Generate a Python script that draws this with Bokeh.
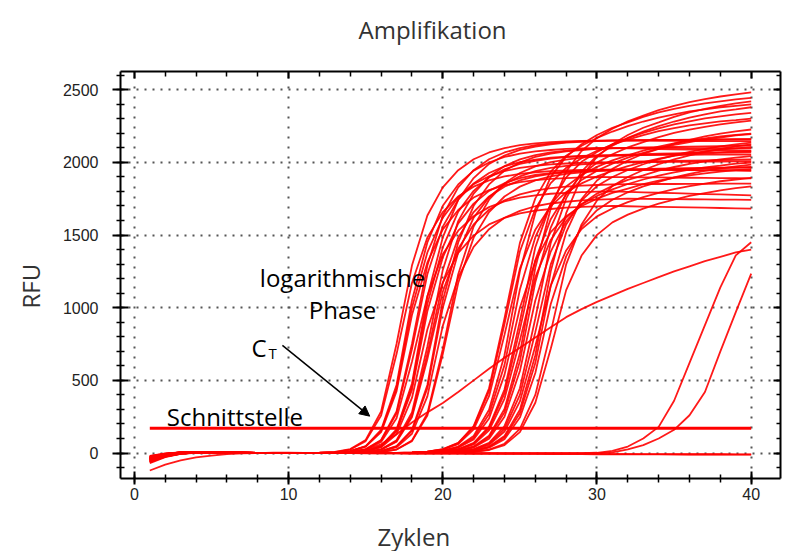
from bokeh.plotting import figure
from bokeh.models import (Range1d, LinearAxis, SingleIntervalTicker, FixedTicker, Label, Arrow,
                          NormalHead, Grid, Title)
from bokeh.embed import file_html
from bokeh.resources import INLINE

# ---------------- data (RFU per cycle) ----------------
cycles = list(range(1, 41))

early_curves = [
    [-40, -12, 2, 6, 6, 4, 2, 1, 0, 0, 1, 2, 8, 27, 90, 286, 750, 1290, 1634, 1828, 1946, 2021, 2068, 2098, 2118, 2131, 2139, 2144, 2148, 2150, 2151, 2152, 2153, 2154, 2155, 2156, 2157, 2158, 2159, 2160],
    [-52, -18, 0, 5, 6, 4, 2, 1, 0, 0, 1, 2, 7, 24, 82, 259, 681, 1170, 1482, 1658, 1765, 1833, 1876, 1903, 1921, 1932, 1940, 1944, 1948, 1950, 1950, 1949, 1949, 1948, 1948, 1947, 1947, 1946, 1946, 1945],
    [-65, -25, -5, 3, 5, 4, 2, 1, 0, 0, 0, 1, 4, 14, 48, 160, 468, 1050, 1449, 1701, 1848, 1943, 1999, 2037, 2060, 2075, 2085, 2092, 2096, 2100, 2098, 2096, 2094, 2092, 2090, 2088, 2086, 2084, 2082, 2080],
    [-20, -3, 5, 8, 7, 5, 3, 1, 0, 0, 0, 1, 4, 13, 44, 144, 424, 950, 1311, 1539, 1672, 1758, 1809, 1843, 1864, 1877, 1886, 1892, 1896, 1900, 1899, 1898, 1897, 1896, 1895, 1894, 1893, 1892, 1891, 1890],
    [-36, -10, 3, 7, 6, 4, 3, 1, 0, 0, 0, 1, 4, 13, 46, 152, 446, 1000, 1380, 1620, 1760, 1850, 1904, 1940, 1962, 1976, 1986, 1992, 1996, 2000, 2002, 2004, 2006, 2008, 2010, 2012, 2014, 2016, 2018, 2020],
    [-55, -18, 0, 5, 6, 4, 3, 1, 0, 0, 0, 1, 2, 7, 25, 86, 273, 715, 1230, 1558, 1743, 1855, 1927, 1972, 2002, 2019, 2032, 2040, 2044, 2048, 2050, 2053, 2056, 2059, 2062, 2065, 2068, 2071, 2074, 2077],
    [-30, -8, 4, 7, 6, 5, 3, 1, 0, 0, 0, 1, 2, 6, 22, 76, 239, 628, 1080, 1368, 1530, 1629, 1692, 1732, 1757, 1773, 1784, 1790, 1795, 1798, 1800, 1797, 1794, 1791, 1788, 1785, 1782, 1779, 1776, 1773],
    [-46, -15, 1, 5, 6, 5, 3, 1, 0, 0, 0, 1, 2, 8, 27, 90, 286, 750, 1290, 1634, 1828, 1946, 2021, 2068, 2098, 2118, 2131, 2139, 2144, 2148, 2150, 2149, 2149, 2148, 2148, 2147, 2147, 2146, 2146, 2145],
    [-38, -11, 2, 6, 6, 4, 2, 1, 0, 0, 0, 0, 1, 4, 14, 49, 163, 479, 1075, 1484, 1742, 1892, 1989, 2047, 2086, 2109, 2124, 2135, 2141, 2146, 2150, 2151, 2152, 2153, 2154, 2155, 2156, 2157, 2158, 2159],
    [-45, -15, 1, 5, 6, 5, 3, 1, 0, 0, 0, 0, 1, 4, 13, 45, 148, 435, 975, 1346, 1580, 1716, 1804, 1856, 1892, 1913, 1926, 1936, 1942, 1946, 1950, 1952, 1954, 1956, 1958, 1960, 1962, 1964, 1966, 1968],
    [-25, -6, 3, 6, 6, 4, 2, 1, 0, 0, 0, 0, 1, 3, 11, 39, 129, 379, 850, 1173, 1377, 1496, 1573, 1618, 1649, 1668, 1679, 1688, 1693, 1697, 1700, 1698, 1696, 1694, 1692, 1690, 1688, 1686, 1684, 1682],
    [-58, -21, -3, 4, 5, 4, 2, 1, 0, 0, 0, 0, 1, 4, 14, 47, 156, 457, 1025, 1415, 1661, 1804, 1896, 1952, 1989, 2011, 2025, 2036, 2042, 2046, 2050, 2050, 2051, 2051, 2052, 2052, 2053, 2053, 2054, 2054],
    [-60, -22, -3, 4, 5, 4, 2, 1, 0, 0, 0, 0, 1, 2, 8, 26, 88, 279, 733, 1260, 1596, 1785, 1901, 1974, 2020, 2050, 2069, 2081, 2090, 2094, 2098, 2100, 2102, 2104, 2106, 2108, 2110, 2112, 2114, 2116],
    [-35, -10, 3, 7, 6, 4, 3, 1, 0, 0, 0, 0, 1, 2, 7, 23, 78, 246, 646, 1110, 1406, 1573, 1674, 1739, 1780, 1806, 1822, 1833, 1840, 1844, 1848, 1850, 1850, 1851, 1851, 1852, 1852, 1853, 1853, 1854],
    [-48, -14, 1, 5, 6, 4, 2, 1, 0, 0, 0, 0, 1, 2, 7, 24, 82, 259, 681, 1170, 1482, 1658, 1765, 1833, 1876, 1903, 1921, 1932, 1940, 1944, 1948, 1950, 1949, 1948, 1947, 1946, 1945, 1944, 1943, 1942],
    [-50, -16, 1, 5, 6, 4, 2, 1, 0, 0, 0, 0, 0, 1, 4, 13, 46, 152, 446, 1000, 1380, 1620, 1760, 1850, 1904, 1940, 1962, 1976, 1986, 1992, 1996, 2000, 2001, 2002, 2003, 2004, 2005, 2006, 2007, 2008],
    [-28, -7, 4, 7, 6, 5, 3, 1, 0, 0, 0, 0, 0, 1, 4, 12, 40, 133, 390, 875, 1208, 1418, 1540, 1619, 1666, 1698, 1717, 1729, 1738, 1743, 1747, 1750, 1749, 1748, 1747, 1746, 1745, 1744, 1743, 1742],
    [-40, -13, 2, 6, 6, 4, 2, 1, 0, 0, 0, 0, 0, 1, 4, 14, 48, 160, 468, 1050, 1449, 1701, 1848, 1943, 1999, 2037, 2060, 2075, 2085, 2092, 2096, 2100, 2100, 2099, 2099, 2098, 2098, 2097, 2097, 2096],
    [-42, -13, 2, 6, 6, 4, 2, 1, 0, 0, 0, 0, 0, 1, 2, 7, 24, 82, 259, 681, 1170, 1482, 1658, 1765, 1833, 1876, 1903, 1921, 1932, 1940, 1944, 1948, 1950, 1952, 1954, 1956, 1958, 1960, 1962, 1964],
    [-70, -28, -6, 2, 5, 4, 2, 1, 0, 0, 0, 0, 0, 1, 2, 7, 25, 86, 273, 715, 1230, 1558, 1743, 1855, 1927, 1972, 2002, 2019, 2032, 2040, 2044, 2048, 2050, 2053, 2056, 2059, 2062, 2065, 2068, 2071],
]

late_curves = [
    [-35, -9, 3, 7, 6, 4, 3, 1, 0, 0, 0, 0, 0, 0, 0, 0, 1, 4, 10, 26, 68, 179, 428, 888, 1387, 1680, 1857, 1962, 2028, 2080, 2122, 2157, 2188, 2214, 2235, 2254, 2268, 2282, 2291, 2301],
    [-48, -15, 1, 5, 6, 4, 2, 1, 0, 0, 0, 0, 0, 0, 0, 0, 1, 3, 9, 24, 62, 163, 391, 813, 1269, 1537, 1699, 1795, 1855, 1903, 1941, 1974, 2002, 2025, 2045, 2062, 2075, 2088, 2096, 2105],
    [-22, -4, 5, 8, 7, 5, 3, 1, 0, 0, 0, 0, 0, 0, 0, 0, 1, 2, 6, 17, 45, 118, 298, 673, 1250, 1650, 1900, 2038, 2125, 2188, 2238, 2275, 2313, 2343, 2368, 2388, 2405, 2420, 2433, 2443],
    [-58, -20, -2, 4, 5, 4, 2, 1, 0, 0, 0, 0, 0, 0, 0, 0, 1, 2, 5, 13, 36, 94, 238, 538, 1000, 1320, 1520, 1630, 1700, 1750, 1790, 1820, 1850, 1874, 1894, 1910, 1924, 1936, 1946, 1954],
    [-38, -11, 2, 6, 6, 4, 3, 1, 0, 0, 0, 0, 0, 0, 0, 0, 0, 1, 4, 10, 26, 70, 182, 437, 907, 1416, 1716, 1896, 2004, 2071, 2124, 2167, 2203, 2234, 2261, 2282, 2302, 2316, 2330, 2340],
    [-62, -24, -4, 3, 5, 4, 2, 1, 0, 0, 0, 0, 0, 0, 0, 0, 0, 1, 3, 9, 25, 65, 171, 410, 851, 1328, 1609, 1778, 1879, 1942, 1991, 2032, 2066, 2095, 2120, 2140, 2158, 2171, 2185, 2194],
    [-26, -5, 4, 8, 7, 5, 3, 1, 0, 0, 0, 0, 0, 0, 0, 0, 0, 1, 2, 6, 17, 46, 120, 303, 686, 1275, 1683, 1938, 2078, 2168, 2231, 2282, 2321, 2359, 2389, 2415, 2435, 2453, 2468, 2481],
    [-44, -14, 1, 5, 6, 4, 2, 1, 0, 0, 0, 0, 0, 0, 0, 0, 0, 1, 2, 5, 14, 38, 99, 250, 565, 1050, 1386, 1596, 1712, 1785, 1838, 1880, 1911, 1943, 1968, 1989, 2006, 2020, 2033, 2043],
    [-33, -9, 3, 7, 6, 4, 3, 1, 0, 0, 0, 0, 0, 0, 0, 0, 0, 0, 1, 4, 10, 27, 71, 186, 446, 926, 1446, 1752, 1936, 2046, 2114, 2168, 2212, 2249, 2281, 2308, 2330, 2350, 2364, 2379],
    [-52, -17, 0, 5, 6, 4, 2, 1, 0, 0, 0, 0, 0, 0, 0, 0, 0, 0, 1, 3, 8, 21, 57, 148, 355, 737, 1151, 1394, 1541, 1628, 1683, 1726, 1761, 1790, 1815, 1837, 1854, 1870, 1882, 1893],
    [-40, -12, 2, 6, 6, 4, 2, 1, 0, 0, 0, 0, 0, 0, 0, 0, 0, 0, 1, 2, 6, 15, 41, 108, 274, 619, 1150, 1518, 1748, 1875, 1955, 2013, 2059, 2093, 2128, 2155, 2178, 2197, 2213, 2226],
    [-30, -8, 4, 7, 6, 5, 3, 1, 0, 0, 0, 0, 0, 0, 0, 0, 0, 0, 1, 2, 6, 17, 45, 118, 298, 673, 1250, 1650, 1900, 2038, 2125, 2188, 2238, 2275, 2313, 2343, 2368, 2388, 2405, 2420],
    [-56, -19, -1, 4, 5, 4, 2, 1, 0, 0, 0, 0, 0, 0, 0, 0, 0, 0, 0, 1, 3, 9, 24, 64, 167, 400, 832, 1298, 1573, 1738, 1837, 1899, 1947, 1987, 2020, 2048, 2072, 2092, 2110, 2123],
    [-24, -5, 5, 8, 7, 5, 3, 1, 0, 0, 0, 0, 0, 0, 0, 0, 0, 0, 0, 1, 3, 8, 21, 55, 144, 346, 718, 1121, 1359, 1501, 1587, 1640, 1682, 1716, 1744, 1769, 1789, 1807, 1822, 1834],
    [-42, -13, 2, 6, 6, 4, 2, 1, 0, 0, 0, 0, 0, 0, 0, 0, 1, 4, 10, 27, 71, 186, 446, 926, 1446, 1752, 1936, 2046, 2114, 2168, 2212, 2249, 2281, 2308, 2330, 2350, 2364, 2379, 2389, 2399],
    [-50, -17, 0, 5, 6, 4, 2, 1, 0, 0, 0, 0, 0, 0, 0, 0, 1, 2, 6, 15, 41, 106, 268, 605, 1125, 1485, 1710, 1834, 1913, 1969, 2014, 2048, 2081, 2108, 2131, 2149, 2165, 2178, 2189, 2198],
    [-28, -6, 4, 7, 6, 5, 3, 1, 0, 0, 0, 0, 0, 0, 0, 0, 0, 1, 3, 8, 23, 59, 156, 373, 775, 1210, 1466, 1620, 1712, 1769, 1814, 1851, 1882, 1909, 1931, 1950, 1966, 1978, 1991, 1999],
    [-36, -11, 2, 6, 6, 4, 3, 1, 0, 0, 0, 0, 0, 0, 0, 0, 0, 1, 2, 6, 16, 42, 110, 280, 632, 1175, 1551, 1786, 1915, 1998, 2056, 2103, 2139, 2174, 2202, 2225, 2244, 2261, 2275, 2287],
    [-60, -23, -4, 3, 5, 4, 2, 1, 0, 0, 0, 0, 0, 0, 0, 0, 0, 0, 1, 3, 9, 24, 64, 167, 400, 832, 1298, 1573, 1738, 1837, 1899, 1947, 1987, 2020, 2048, 2072, 2092, 2110, 2123, 2136],
    [-32, -9, 3, 7, 6, 4, 3, 1, 0, 0, 0, 0, 0, 0, 0, 0, 0, 0, 1, 2, 5, 14, 37, 96, 244, 551, 1025, 1353, 1558, 1671, 1743, 1794, 1835, 1866, 1896, 1921, 1941, 1958, 1972, 1984],
]

slow_curve = [-50, -16, 0, 5, 6, 4, 2, 1, 0, 0, 0, 1, 3, 8, 22, 60, 130, 210, 280, 345, 420, 500, 580, 655, 725, 795, 865, 935, 990, 1040, 1085, 1130, 1170, 1210, 1250, 1285, 1320, 1350, 1380, 1400]

very_late_curves = [
    [-30, -8, 3, 6, 5, 4, 2, 1, 0, 0, 0, 0, 0, 0, 0, 0, 0, 0, 0, 0, 0, 0, 0, 0, 0, 0, 0, 0, 0, 2, 15, 45, 100, 180, 360, 620, 880, 1140, 1360, 1450],
    [-45, -14, 1, 5, 6, 4, 2, 1, 0, 0, 0, 0, 0, 0, 0, 0, 0, 0, 0, 0, 0, 0, 0, 0, 0, 0, 0, 0, 0, 0, 5, 25, 55, 100, 160, 260, 420, 700, 970, 1235],
]

negative_controls = [
    [-120, -80, -50, -30, -17, -8, -2, 0, 2, 2, 1, 0, 0, -1, -1, -2, -2, -3, -3, -4, -4, -5, -5, -5, -6, -6, -7, -7, -7, -8, -8, -8, -9, -9, -9, -10, -10, -10, -11, -11],
    [-35, -10, 2, 5, 5, 4, 2, 1, 0, 0, 0, -1, -1, -1, -2, -2, -2, -3, -3, -3, -4, -4, -4, -5, -5, -5, -6, -6, -6, -6, -7, -7, -7, -7, -8, -8, -8, -8, -9, -9],
]

threshold_rfu = 170
threshold_cycles = [1, 40]

# ---------------- figure ----------------
RED = "#ff0000"
p = figure(width=796, height=551, output_backend="svg", toolbar_location=None,
           x_range=Range1d(-0.9, 41.9), y_range=Range1d(-175, 2625),
           x_axis_type=None, y_axis_type=None,
           min_border_left=120, min_border_right=16, min_border_top=71, min_border_bottom=73)
p.outline_line_color = None
p.background_fill_color = "white"
p.border_fill_color = "white"

xt = SingleIntervalTicker(interval=10, num_minor_ticks=5)
yt = SingleIntervalTicker(interval=500, num_minor_ticks=5)


def style_axis(ax, tin, tout, mtin, mtout, labels=True):
    ax.axis_line_color = "black"
    ax.axis_line_width = 2
    ax.major_tick_line_color = "black"
    ax.major_tick_line_width = 2
    ax.minor_tick_line_color = "black"
    ax.minor_tick_line_width = 1.5
    ax.major_tick_in = tin
    ax.major_tick_out = tout
    ax.minor_tick_in = mtin
    ax.minor_tick_out = mtout
    ax.major_label_text_font = "Liberation Sans"
    ax.major_label_text_font_size = "16px"
    ax.major_label_text_color = "#222222" if labels else None


def spacer(size, tick):
    # invisible axis that only reserves room in a side panel
    ax = LinearAxis(ticker=FixedTicker(ticks=[tick]))
    ax.axis_line_color = None
    ax.major_tick_line_color = None
    ax.minor_tick_line_color = None
    ax.major_label_text_color = None
    ax.major_tick_in = 0
    ax.major_tick_out = size
    ax.minor_tick_in = 0
    ax.minor_tick_out = 0
    ax.major_label_standoff = 0
    return ax


def side_title(text, **kw):
    return Title(text=text, text_font="Open Sans", text_font_size="24px",
                 text_font_style="normal", text_color="#333333", **kw)


# bottom
xb = LinearAxis(ticker=xt)
style_axis(xb, 7, 6, 4, 4)
xb.major_label_standoff = 3
p.add_layout(xb, "below")
p.add_layout(spacer(37, 20), "below")
p.add_layout(side_title("Zyklen", align="left", offset=257, vertical_align="top",
                        standoff=-40), "below")

# left
yl = LinearAxis(ticker=yt)
style_axis(yl, 8, 8, 4, 4)
yl.major_label_standoff = 14
p.add_layout(yl, "left")
p.add_layout(side_title("RFU", align="left", offset=170, vertical_align="top",
                        standoff=22), "left")

# top
xa = LinearAxis(ticker=xt)
style_axis(xa, 7, 0, 5, 0, labels=False)
xa.major_label_standoff = 0
p.add_layout(xa, "above")
p.add_layout(spacer(24, 20), "above")
p.add_layout(side_title("Amplifikation", align="left", offset=238, vertical_align="top",
                        standoff=0), "above")

# right
yr = LinearAxis(ticker=yt)
style_axis(yr, 7, 0, 4, 0, labels=False)
yr.major_label_standoff = 0
p.add_layout(yr, "right")

gx = Grid(dimension=0, ticker=xt, grid_line_color="#555555", grid_line_width=2,
          grid_line_dash="2 8")
gy = Grid(dimension=1, ticker=yt, grid_line_color="#555555", grid_line_width=2,
          grid_line_dash="2 6")
p.add_layout(gx)
p.add_layout(gy)

# ---------------- curves ----------------
all_curves = early_curves + late_curves + [slow_curve] + very_late_curves + negative_controls
p.multi_line(xs=[cycles] * len(all_curves), ys=all_curves,
             line_color=RED, line_width=1.8, line_alpha=0.9)
p.line(x=threshold_cycles, y=[threshold_rfu, threshold_rfu], line_color=RED, line_width=3)

# ---------------- annotations ----------------
def lab(x, y, text, size="24px", align="left"):
    p.add_layout(Label(x=x, y=y, text=text, text_font="Open Sans", text_font_size=size,
                       text_color="black", text_align=align, text_baseline="alphabetic"))


lab(13.5, 1208, "logarithmische", align="center")
lab(13.5, 988, "Phase", align="center")
lab(7.6, 726, "C")
lab(8.7, 685, "T", size="15px")
lab(2.1, 252, "Schnittstelle")

p.add_layout(Arrow(end=NormalHead(size=10, fill_color="black", line_color="black"),
                   x_start=9.6, y_start=741, x_end=15.26, y_end=254,
                   line_color="black", line_width=1.5))

open("out.html", "w").write(file_html(p, INLINE))
